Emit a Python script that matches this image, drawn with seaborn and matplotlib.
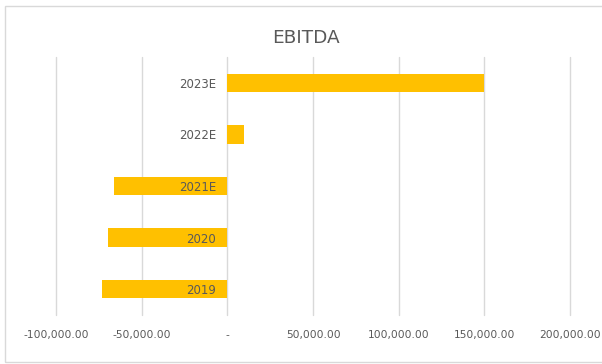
import matplotlib
matplotlib.use("Agg")
import matplotlib.pyplot as plt
import matplotlib.ticker as mticker
from matplotlib.patches import Rectangle
import seaborn as sns
import pandas as pd

categories = ["2023E", "2022E", "2021E", "2020", "2019"]
ebitda = [150000, 9600, -66000, -69600, -73300]
x_ticks = [-100000, -50000, 0, 50000, 100000, 150000, 200000]

df = pd.DataFrame({"Year": categories, "EBITDA": ebitda})

sns.set_theme(style="white")
plt.rcParams["font.family"] = ["DejaVu Sans"]

W, H = 602, 364
fig = plt.figure(figsize=(W / 100, H / 100), dpi=100)
ax = fig.add_axes([56 / W, (H - 315) / H, (570 - 56) / W, (315 - 57) / H])

sns.barplot(data=df, x="EBITDA", y="Year", order=categories, orient="h",
            color="#FFC000", saturation=1, width=0.36, ax=ax, zorder=1)
for p in ax.patches:
    p.set_edgecolor("none")

ax.set_xlim(-100000, 200000)
ax.set_ylim(4.5, -0.5)
ax.set_xticks(x_ticks)

def fmt(v, pos):
    if abs(v) < 1e-9:
        return "-"
    return f"{v:,.2f}"

ax.xaxis.set_major_formatter(mticker.FuncFormatter(fmt))
ax.grid(axis="x", color="#d9d9d9", linewidth=1.0)
ax.grid(axis="y", visible=False)
for gl in ax.get_xgridlines():
    gl.set_clip_on(False)
ax.xaxis.set_zorder(0.5)
ax.yaxis.set_zorder(3)

for s in ["top", "right", "bottom"]:
    ax.spines[s].set_visible(False)
ax.spines["left"].set_position(("data", 0))
ax.spines["left"].set_visible(False)

ax.tick_params(axis="x", length=0, pad=11, labelsize=7.7, labelcolor="#595959")
ax.tick_params(axis="y", length=0, pad=8, labelsize=8.5, labelcolor="#595959")
ax.set_xlabel("")
ax.set_ylabel("")

fig.text(306 / W, 1 - 38 / H, "EBITDA", ha="center", va="center",
         fontsize=13.3, color="#595959")

fig.patches.append(Rectangle((5 / W, 2 / H), 1.2, 1 - 8 / H,
                             transform=fig.transFigure, fill=False,
                             edgecolor="#d9d9d9", linewidth=1.0))

fig.savefig("out.png", dpi=100)
